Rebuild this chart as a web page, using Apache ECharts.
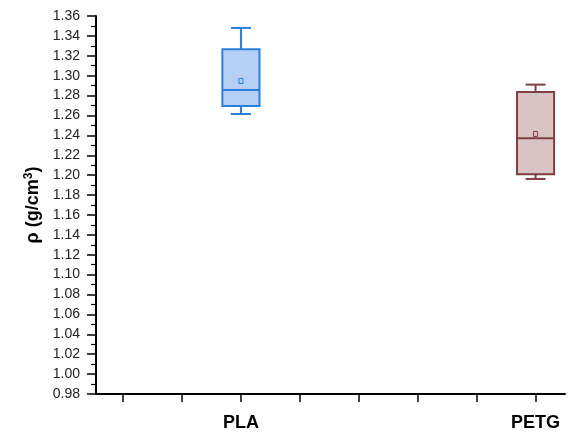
<!DOCTYPE html>
<html>
<head>
<meta charset="utf-8">
<script src="https://cdn.jsdelivr.net/npm/echarts@6/dist/echarts.min.js"></script>
<style>
  html, body { margin: 0; padding: 0; background: #fff; }
  #chart { width: 570px; height: 432px; }
</style>
</head>
<body>
<div id="chart"></div>
<script>
// box statistics
const groups = ['PLA', 'PETG'];
const groupPos = [3, 8];
const whiskerLow = [1.2615, 1.1962];
const boxLow = [1.2696, 1.2009];
const median = [1.2856, 1.2371];
const boxHigh = [1.3265, 1.2836];
const whiskerHigh = [1.348, 1.291];
const mean = [1.2947, 1.2414];
const xTicks = [1, 2, 3, 4, 5, 6, 7, 8];

const strokeColors = ['#2a7fdc', '#7e3e44'];
const fillColors = ['#b6cff5', '#d8c3c5'];

var myChart = echarts.init(document.getElementById('chart'));

var boxData = groups.map(function (g, i) {
  return [groupPos[i], whiskerLow[i], boxLow[i], median[i], boxHigh[i], whiskerHigh[i], mean[i], i];
});

function renderBox(params, api) {
  var x = api.value(0);
  var idx = api.value(7);
  var stroke = strokeColors[idx];
  var fill = fillColors[idx];
  var boxW = api.size([0.63, 0])[0];
  var capW = api.size([0.34, 0])[0];
  var pLow = api.coord([x, api.value(1)]);
  var pQ1 = api.coord([x, api.value(2)]);
  var pMed = api.coord([x, api.value(3)]);
  var pQ3 = api.coord([x, api.value(4)]);
  var pHigh = api.coord([x, api.value(5)]);
  var pMean = api.coord([x, api.value(6)]);
  var cx = pQ1[0];
  var lineStyle = { stroke: stroke, lineWidth: 2, fill: null };
  return {
    type: 'group',
    children: [
      { type: 'line', shape: { x1: cx, y1: pHigh[1], x2: cx, y2: pQ3[1] }, style: lineStyle },
      { type: 'line', shape: { x1: cx, y1: pLow[1], x2: cx, y2: pQ1[1] }, style: lineStyle },
      { type: 'line', shape: { x1: cx - capW / 2, y1: pHigh[1], x2: cx + capW / 2, y2: pHigh[1] }, style: lineStyle },
      { type: 'line', shape: { x1: cx - capW / 2, y1: pLow[1], x2: cx + capW / 2, y2: pLow[1] }, style: lineStyle },
      { type: 'rect', shape: { x: cx - boxW / 2, y: pQ3[1], width: boxW, height: pQ1[1] - pQ3[1] },
        style: { fill: fill, stroke: stroke, lineWidth: 2 } },
      { type: 'line', shape: { x1: cx - boxW / 2, y1: pMed[1], x2: cx + boxW / 2, y2: pMed[1] }, style: lineStyle },
      { type: 'rect', shape: { x: cx - 2, y: pMean[1] - 2.5, width: 4, height: 5 },
        style: { fill: fill, stroke: stroke, lineWidth: 1 } }
    ]
  };
}

var option = {
  animation: false,
  backgroundColor: '#ffffff',
  grid: { left: 96, right: 5, top: 16, bottom: 38 },
  xAxis: {
    type: 'value',
    min: 0.54,
    max: 8.5,
    splitLine: { show: false },
    axisLine: { lineStyle: { color: '#000', width: 2 } },
    axisTick: {
      customValues: xTicks,
      length: 8,
      lineStyle: { color: '#000', width: 1.5 }
    },
    axisLabel: {
      customValues: groupPos,
      formatter: function (v) {
        var i = groupPos.indexOf(Math.round(v));
        return i >= 0 ? groups[i] : '';
      },
      margin: 20,
      color: '#000',
      fontFamily: 'Liberation Sans',
      fontWeight: 'bold',
      fontSize: 18
    }
  },
  yAxis: {
    type: 'value',
    min: 0.98,
    max: 1.36,
    interval: 0.02,
    name: 'ρ (g/cm{sup|3})',
    nameLocation: 'middle',
    nameGap: 50,
    nameTextStyle: {
      color: '#000',
      fontFamily: 'Liberation Sans',
      fontWeight: 'bold',
      fontSize: 18,
      rich: {
        sup: {
          color: '#000',
          fontFamily: 'Liberation Sans',
          fontWeight: 'bold',
          fontSize: 12,
          verticalAlign: 'top',
          padding: [0, 0, 9, 0]
        }
      }
    },
    splitLine: { show: false },
    axisLine: { show: true, lineStyle: { color: '#000', width: 2 } },
    axisTick: { length: 9, lineStyle: { color: '#000', width: 1.5 } },
    minorTick: { show: true, splitNumber: 2, length: 5, lineStyle: { color: '#000', width: 1.2 } },
    axisLabel: {
      color: '#222',
      fontFamily: 'Liberation Sans',
      fontSize: 14,
      margin: 16,
      formatter: function (v) { return v.toFixed(2); }
    }
  },
  series: [
    {
      type: 'custom',
      renderItem: renderBox,
      encode: { x: 0, y: [1, 5] },
      data: boxData
    }
  ]
};

myChart.setOption(option);
</script>
</body>
</html>
